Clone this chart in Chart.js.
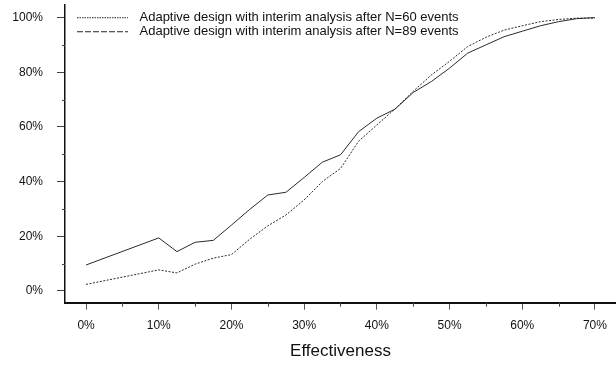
<!DOCTYPE html>
<html>
<head>
<meta charset="utf-8">
<script src="https://cdn.jsdelivr.net/npm/chart.js@4/dist/chart.umd.min.js"></script>
<style>
  html, body { margin: 0; padding: 0; background: #ffffff; }
  #wrap { width: 616px; height: 365px; }
</style>
</head>
<body>
<div id="wrap"><canvas id="c" width="616" height="365"></canvas></div>
<script>
// ---- data ----
const effectiveness = [0, 10, 12.5, 15, 17.5, 20, 22.5, 25, 27.5, 30, 32.5, 35, 37.5, 40, 42.5, 45, 47.5, 50, 52.5, 55, 57.5, 60, 62.5, 65, 67.5, 70];
const powerN60 = [2.4, 7.7, 6.6, 9.8, 12.0, 13.3, 18.9, 23.8, 27.8, 33.3, 40.0, 44.8, 54.8, 60.7, 66.6, 73.0, 79.0, 84.0, 89.4, 92.8, 95.4, 97.0, 98.5, 99.3, 99.8, 99.8];
const powerN89 = [9.5, 19.4, 14.4, 17.8, 18.5, 24.1, 29.8, 35.1, 36.1, 41.5, 47.1, 49.8, 58.3, 63.2, 66.5, 72.6, 76.6, 81.5, 87.0, 90.0, 93.0, 95.0, 97.0, 98.5, 99.6, 100.0];
const seriesLabels = ['Adaptive design with interim analysis after N=60 events', 'Adaptive design with interim analysis after N=89 events'];
const xTicks = [0, 10, 20, 30, 40, 50, 60, 70];
const xMinorTicks = [5, 15, 25, 35, 45, 55, 65];
const yTicks = [0, 20, 40, 60, 80, 100];
const yMinorTicks = [10, 30, 50, 70, 90];
const xTitle = 'Effectiveness';

const FONT = 'Liberation Sans, Arial, sans-serif';
const INK = '#111111';

function toPoints(xs, ys) { return xs.map((x, i) => ({ x: x, y: ys[i] })); }

function legendSample(dash) {
  const cv = document.createElement('canvas');
  cv.width = 56; cv.height = 3;
  const g = cv.getContext('2d');
  g.strokeStyle = '#222';
  g.lineWidth = 1;
  g.setLineDash(dash);
  g.beginPath();
  g.moveTo(0, 1.5);
  g.lineTo(51, 1.5);
  g.stroke();
  return cv;
}
const samples = [legendSample([1.5, 1]), legendSample([6, 2])];

const minorTicksPlugin = {
  id: 'minorTicks',
  afterLayout(chart) {
    const lg = chart.legend;
    if (lg) {
      lg.left = chart.chartArea.left + 11;
      lg.top = chart.chartArea.top + 5.2;
    }
  },
  afterDraw(chart) {
    const ctx = chart.ctx;
    const xs = chart.scales.x, ys = chart.scales.y;
    ctx.save();
    ctx.strokeStyle = '#444';
    ctx.lineWidth = 1;
    ctx.beginPath();
    xMinorTicks.forEach(v => {
      const px = Math.round(xs.getPixelForValue(v)) + 0.5;
      ctx.moveTo(px, xs.top);
      ctx.lineTo(px, xs.top + 4);
    });
    yMinorTicks.forEach(v => {
      const py = Math.round(ys.getPixelForValue(v)) + 0.5;
      ctx.moveTo(ys.right, py);
      ctx.lineTo(ys.right - 3, py);
    });
    ctx.stroke();
    ctx.restore();
  }
};

function noPad(scale) {
  scale.paddingTop = 0; scale.paddingBottom = 0;
  scale.paddingLeft = 0; scale.paddingRight = 0;
}

new Chart(document.getElementById('c'), {
  type: 'line',
  data: {
    datasets: [
      {
        label: seriesLabels[0],
        data: toPoints(effectiveness, powerN60),
        borderColor: '#2a2a2a',
        borderWidth: 1,
        borderDash: [2, 1.5],
        pointRadius: 0,
        tension: 0,
        fill: false
      },
      {
        label: seriesLabels[1],
        data: toPoints(effectiveness, powerN89),
        borderColor: '#2a2a2a',
        borderWidth: 1,
        borderDash: [],
        pointRadius: 0,
        tension: 0,
        fill: false
      }
    ]
  },
  options: {
    responsive: false,
    devicePixelRatio: 1,
    animation: false,
    layout: { padding: { top: 5, right: 0, left: 0, bottom: 0 } },
    plugins: {
      tooltip: { enabled: false },
      legend: {
        position: 'chartArea',
        align: 'start',
        labels: {
          usePointStyle: true,
          pointStyleWidth: 56,
          padding: 1,
          color: INK,
          font: { family: FONT, size: 13 },
          generateLabels(chart) {
            return chart.data.datasets.map((ds, i) => ({
              text: ds.label,
              pointStyle: samples[i],
              fillStyle: 'transparent',
              strokeStyle: '#222',
              lineWidth: 1,
              hidden: false,
              datasetIndex: i,
              fontColor: INK
            }));
          }
        }
      }
    },
    scales: {
      x: {
        type: 'linear',
        min: -2.9,
        max: 72.9,
        afterBuildTicks(scale) { scale.ticks = xTicks.map(v => ({ value: v })); },
        afterFit(scale) { scale.height = 62.3; noPad(scale); },
        ticks: {
          color: INK,
          font: { family: FONT, size: 12 },
          padding: 9,
          callback: v => v + '%'
        },
        grid: { drawOnChartArea: false, drawTicks: true, tickLength: 7, tickColor: '#555', tickWidth: 1 },
        border: { display: true, color: '#111', width: 2 },
        title: { display: true, text: xTitle, color: INK, font: { family: FONT, size: 17 }, padding: { top: 4, bottom: 3 } }
      },
      y: {
        type: 'linear',
        min: -4.3,
        max: 104.6,
        afterBuildTicks(scale) { scale.ticks = yTicks.map(v => ({ value: v })); },
        afterFit(scale) { scale.width = 65; noPad(scale); },
        ticks: {
          color: INK,
          font: { family: FONT, size: 12 },
          padding: 14,
          callback: v => v + '%'
        },
        grid: { drawOnChartArea: false, drawTicks: true, tickLength: 8, tickColor: '#444', tickWidth: 1 },
        border: { display: true, color: '#111', width: 1.5 }
      }
    }
  },
  plugins: [minorTicksPlugin]
});
</script>
</body>
</html>
